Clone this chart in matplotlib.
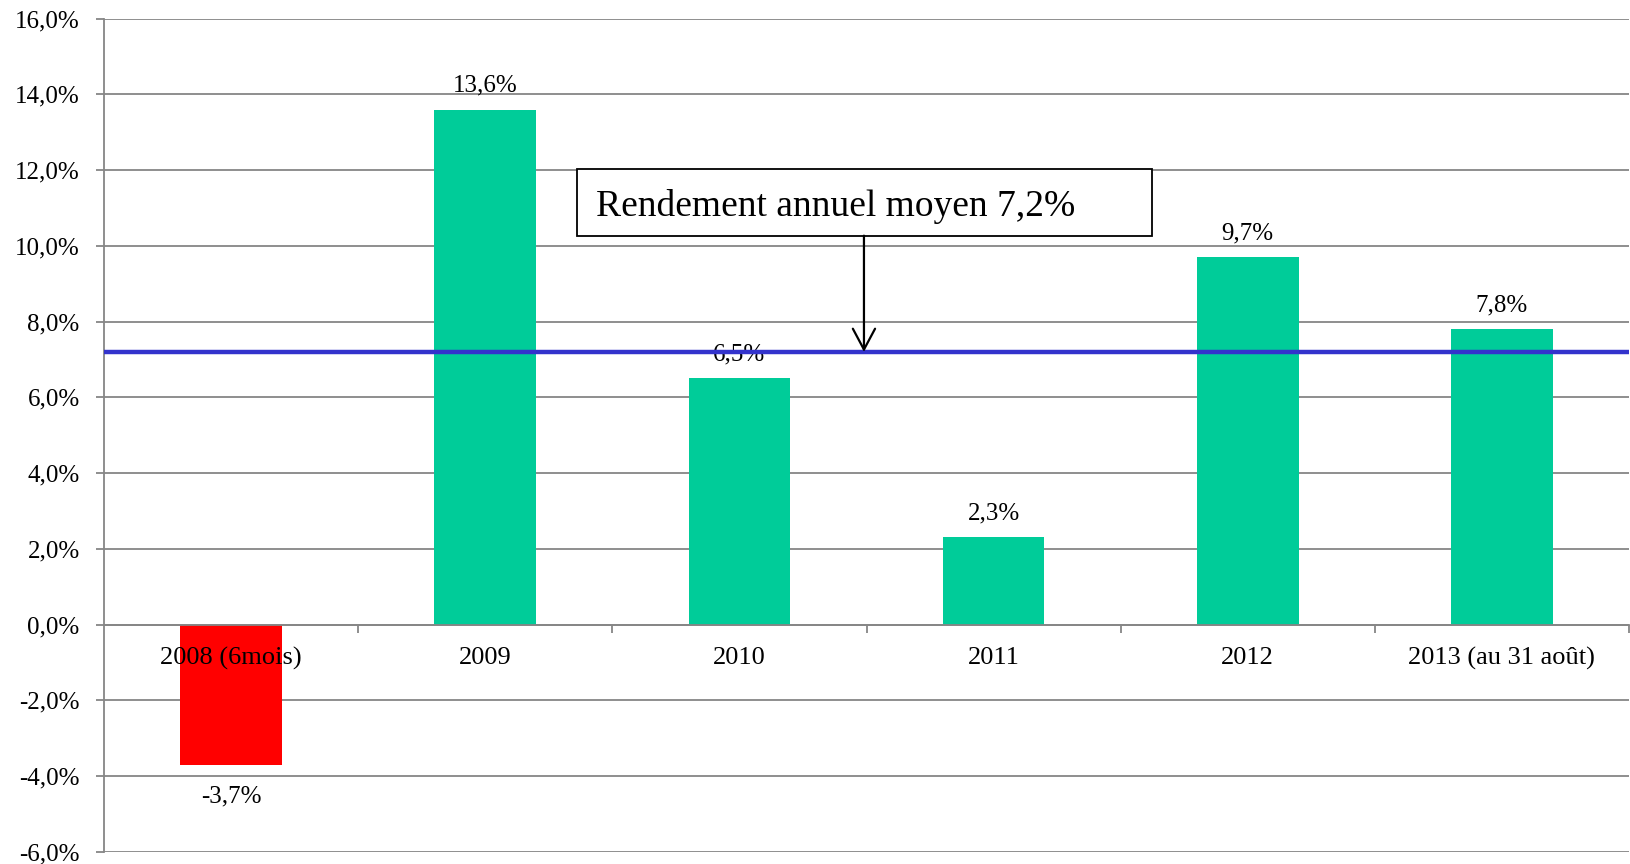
import matplotlib
matplotlib.use("Agg")
import matplotlib.pyplot as plt
from matplotlib.patches import Rectangle
from matplotlib.ticker import FixedLocator, FuncFormatter

plt.rcParams['font.family'] = ['Liberation Serif', 'DejaVu Serif']

categories = ["2008 (6mois)", "2009", "2010", "2011", "2012", "2013 (au 31 août)"]
values = [-3.7, 13.6, 6.5, 2.3, 9.7, 7.8]
mean_value = 7.2
mean_label = "Rendement annuel moyen 7,2%"
yticks = [-6, -4, -2, 0, 2, 4, 6, 8, 10, 12, 14, 16]

GREEN = "#00CC99"
RED = "#FF0000"
BLUE = "#3333CC"
GRID = "#868686"

fig = plt.figure(figsize=(16.30, 8.64), dpi=100)
ax = fig.add_axes([104/1630, 1 - 851.7/864, (1629 - 104)/1630, (851.7 - 18.7)/864])

x = list(range(len(categories)))
colors = [RED if v < 0 else GREEN for v in values]
ax.bar(x, values, width=0.4, color=colors, zorder=1)

ax.set_xlim(-0.5, len(categories) - 0.5)
ax.set_ylim(yticks[0], yticks[-1])

# gridlines
ax.set_yticks(yticks)
ax.yaxis.set_major_formatter(FuncFormatter(lambda v, p: f"{v:.1f}%".replace(".", ",")))
ax.yaxis.grid(True, color=GRID, linewidth=1.3)
ax.set_axisbelow(True)
ax.xaxis.set_zorder(3)

for s in ["top", "right"]:
    ax.spines[s].set_visible(False)
ax.spines["left"].set_color(GRID)
ax.spines["left"].set_linewidth(1.3)
ax.spines["bottom"].set_position(("data", 0))
ax.spines["bottom"].set_color(GRID)
ax.spines["bottom"].set_linewidth(1.3)
ax.spines["bottom"].set_zorder(2)

ax.tick_params(axis="y", length=5.5, width=1.3, color=GRID, labelsize=18, pad=12)
ax.set_xticks(x)
ax.set_xticklabels(categories)
ax.xaxis.set_minor_locator(FixedLocator([i + 0.5 for i in x]))
ax.tick_params(axis="x", which="major", length=0, labelsize=19, pad=16)
ax.tick_params(axis="x", which="minor", length=5.5, width=1.3, color=GRID, direction="out")

# data labels
for xi, v in zip(x, values):
    off = 24 if v >= 0 else -32
    ax.annotate(f"{v:.1f}%".replace(".", ","), xy=(xi, v), xytext=(0, off),
                textcoords="offset pixels", ha="center", va="center",
                fontsize=18, zorder=3)

# mean line
ax.axhline(mean_value, color=BLUE, linewidth=3.2, zorder=4)

# annotation box + arrow
box_x0, box_x1 = 1.361, 3.623
box_y0, box_y1 = 10.27, 12.02
ax.add_patch(Rectangle((box_x0, box_y0), box_x1 - box_x0, box_y1 - box_y0,
                       facecolor="white", edgecolor="black", linewidth=1.3, zorder=5))
ax.text(1.436, (box_y0 + box_y1) / 2 - 0.1, mean_label, fontsize=27,
        ha="left", va="center", zorder=6)
arrow_x = 2.49
ax.annotate("", xy=(arrow_x, mean_value), xytext=(arrow_x, box_y0),
            arrowprops=dict(arrowstyle="->,head_length=0.75,head_width=0.4",
                            mutation_scale=20, color="black", lw=1.6,
                            shrinkA=0, shrinkB=0), zorder=6)

fig.savefig("out.png", dpi=100)
